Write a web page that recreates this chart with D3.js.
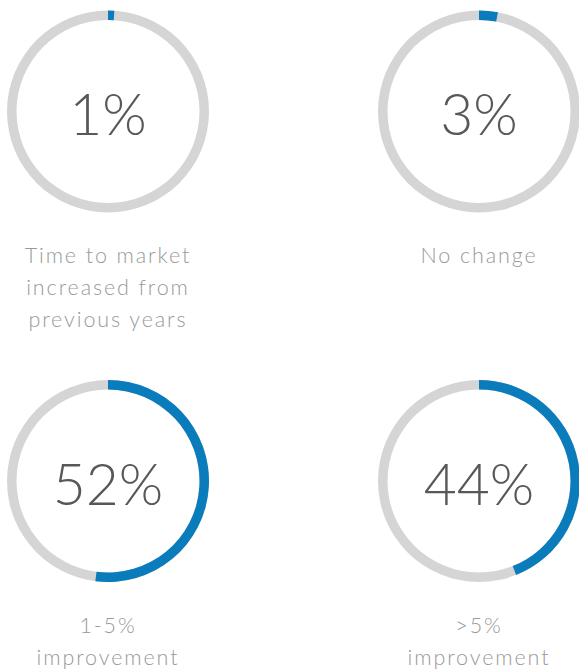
<!DOCTYPE html>
<html>
<head>
<meta charset="utf-8">
<script src="https://cdn.jsdelivr.net/npm/d3@7"></script>
<style>
  html, body { margin: 0; padding: 0; background: #fff; }
  svg { display: block; }
</style>
</head>
<body>
<svg id="chart" width="579" height="670"></svg>
<script>
const categories = ["Time to market increased from previous years", "No change", "1-5% improvement", ">5% improvement"];
const labelLines = [
  ["Time to market", "increased from", "previous years"],
  ["No change"],
  ["1-5%", "improvement"],
  [">5%", "improvement"]
];
const values = [1, 3, 52, 44];

const svg = d3.select("#chart");
const centers = [[108, 111.5], [479, 111.5], [108, 481], [479, 481]];
const outerR = 101, innerR = 91.5;

const angle = d3.scaleLinear().domain([0, 100]).range([0, 2 * Math.PI]);
const arc = d3.arc().innerRadius(innerR).outerRadius(outerR);

const g = svg.selectAll("g.donut").data(values).join("g")
  .attr("class", "donut")
  .attr("transform", (d, i) => `translate(${centers[i][0]},${centers[i][1]})`);

g.append("path")
  .attr("d", arc({startAngle: 0, endAngle: 2 * Math.PI}))
  .attr("fill", "#d5d5d5");

g.append("path")
  .attr("d", d => arc({startAngle: 0, endAngle: angle(d)}))
  .attr("fill", "#0a7bbb");

g.append("text")
  .attr("text-anchor", "middle")
  .attr("y", 23.5)
  .attr("font-family", "Lato, sans-serif")
  .attr("font-weight", 300)
  .attr("font-size", 57)
  .attr("fill", "#58585b")
  .text(d => d + "%");

g.each(function(d, i) {
  const t = d3.select(this).append("text")
    .attr("text-anchor", "middle")
    .attr("font-family", "Lato, sans-serif")
    .attr("font-weight", 300)
    .attr("font-size", 21.5)
    .attr("letter-spacing", 1.9)
    .attr("fill", "#999999");
  labelLines[i].forEach((line, j) => {
    t.append("tspan").attr("x", 0).attr("y", 151.5 + j * 32).text(line);
  });
});
</script>
</body>
</html>
